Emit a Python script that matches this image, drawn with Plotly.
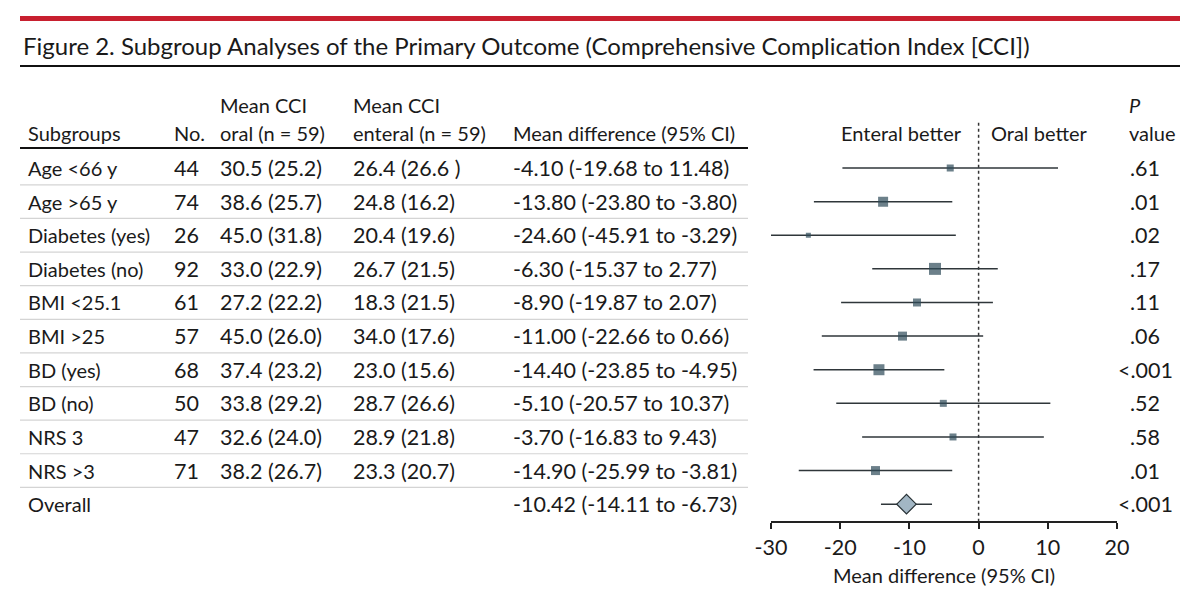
import plotly.graph_objects as go

# -- table / forest data
subgroups = ["Age <66 y", "Age >65 y", "Diabetes (yes)", "Diabetes (no)", "BMI <25.1",
             "BMI >25", "BD (yes)", "BD (no)", "NRS 3", "NRS >3", "Overall"]
counts = ["44", "74", "26", "92", "61", "57", "68", "50", "47", "71", ""]
oral_cci = ["30.5 (25.2)", "38.6 (25.7)", "45.0 (31.8)", "33.0 (22.9)", "27.2 (22.2)",
            "45.0 (26.0)", "37.4 (23.2)", "33.8 (29.2)", "32.6 (24.0)", "38.2 (26.7)", ""]
enteral_cci = ["26.4 (26.6 )", "24.8 (16.2)", "20.4 (19.6)", "26.7 (21.5)", "18.3 (21.5)",
               "34.0 (17.6)", "23.0 (15.6)", "28.7 (26.6)", "28.9 (21.8)", "23.3 (20.7)", ""]
mean_diff = [-4.10, -13.80, -24.60, -6.30, -8.90, -11.00, -14.40, -5.10, -3.70, -14.90, -10.42]
ci_low = [-19.68, -23.80, -45.91, -15.37, -19.87, -22.66, -23.85, -20.57, -16.83, -25.99, -14.11]
ci_high = [11.48, -3.80, -3.29, 2.77, 2.07, 0.66, -4.95, 10.37, 9.43, -3.81, -6.73]
p_values = [".61", ".01", ".02", ".17", ".11", ".06", "<.001", ".52", ".58", ".01", "<.001"]
weights = [7, 10, 5, 12, 8, 9, 11, 7, 7, 9]  # marker size ~ study weight
x_ticks = [-30, -20, -10, 0, 10, 20]

FONT = "Lato, Roboto, sans-serif"
TXT = "#1a1a1a"
MARK = "#2e4a58"
LINE = "#2f363a"

# the page body has an 8px margin; size the figure so it fits the 1200x604 window
OFF = 8
W, H = 1200 - OFF, 604 - OFF


def px(x):
    return (x - OFF) / W


def py(y):
    return 1 - (y - OFF) / H


rows = list(range(len(subgroups)))
fig = go.Figure()

# -------------------------------------------------------------------------
# subgroup estimates (squares) with CI whiskers
n = len(weights)
fig.add_trace(go.Scatter(
    x=mean_diff[:n], y=rows[:n], mode="markers",
    marker=dict(symbol="square", size=weights, color=MARK, line=dict(width=0)),
    error_x=dict(type="data", symmetric=False,
                 array=[h - m for h, m in zip(ci_high[:n], mean_diff[:n])],
                 arrayminus=[m - lo for m, lo in zip(mean_diff[:n], ci_low[:n])],
                 color=LINE, thickness=1.5, width=0),
    showlegend=False, hoverinfo="skip",
))
# -- overall (diamond)
fig.add_trace(go.Scatter(
    x=mean_diff[n:], y=rows[n:], mode="markers",
    marker=dict(symbol="diamond", size=15, color="#a2b6c4", line=dict(width=1.2, color="#263034")),
    error_x=dict(type="data", symmetric=False,
                 array=[ci_high[n] - mean_diff[n]], arrayminus=[mean_diff[n] - ci_low[n]],
                 color=LINE, thickness=1.5, width=0),
    showlegend=False, hoverinfo="skip",
))

# -- null line
fig.add_shape(type="line", xref="x", yref="y", x0=0, x1=0, y0=-1.35, y1=10.5,
              line=dict(color="#333", width=1.5, dash="dot"), layer="below")

# -------------------------------------------------------------------------
# table text
col_x = [27, 173, 219, 352, 512]
annos = []


def txt(x, y, s, size=20, yref="paper", xanchor="left", italic=False):
    annos.append(dict(x=px(x), y=y, xref="paper", yref=yref, text=s, showarrow=False,
                      xanchor=xanchor, yanchor="middle", borderpad=0,
                      font=dict(family=FONT, size=size, color=TXT,
                                style="italic" if italic else "normal")))


NUM = 21.5  # the figures in the source are a touch wider than the letters
for i in rows:
    txt(col_x[0], i, subgroups[i], yref="y")
    for cx, col in zip(col_x[1:4], [counts, oral_cci, enteral_cci]):
        txt(cx, i, col[i], size=NUM, yref="y")
    txt(col_x[4], i, f"{mean_diff[i]:.2f} ({ci_low[i]:.2f} to {ci_high[i]:.2f})", size=NUM, yref="y")
    txt(1145, i, p_values[i], size=NUM, yref="y", xanchor="center")

# header
txt(27, py(133), "Subgroups")
txt(173, py(133), "No.")
txt(219, py(105), "Mean CCI")
txt(219, py(133), "oral (n = 59)")
txt(352, py(105), "Mean CCI")
txt(352, py(133), "enteral (n = 59)")
txt(512, py(133), "Mean difference (95% CI)")
txt(1128, py(105), "P", italic=True)
txt(1128, py(133), "value")
txt(963, py(133), "Enteral better", xanchor="right")
txt(990, py(133), "Oral better")

# title
txt(22, py(45), "Figure 2. Subgroup Analyses of the Primary Outcome (Comprehensive Complication Index [CCI])",
    size=24)

fig.update_layout(annotations=annos)

# -- rules
shapes = [
    dict(type="rect", xref="paper", yref="paper", x0=px(20), x1=px(1180), y0=py(21), y1=py(16),
         fillcolor="#c8202f", line=dict(width=0)),
    dict(type="line", xref="paper", yref="paper", x0=px(20), x1=px(1180), y0=py(66), y1=py(66),
         line=dict(color="#111", width=2)),
    dict(type="line", xref="paper", yref="paper", x0=px(20), x1=px(748), y0=py(148), y1=py(148),
         line=dict(color="#111", width=2)),
]
for i in rows[:-1]:
    shapes.append(dict(type="line", xref="paper", yref="y", x0=px(20), x1=px(748), y0=i + 0.5, y1=i + 0.5,
                       line=dict(color="#d4d4d4", width=1.2)))
for s in shapes:
    fig.add_shape(**s)

# -------------------------------------------------------------------------
fig.update_layout(
    width=W, height=H,
    margin=dict(l=0, r=0, t=0, b=0, autoexpand=False),
    plot_bgcolor="white", paper_bgcolor="white",
    font=dict(family=FONT, size=20, color=TXT),
    xaxis=dict(domain=[px(771), px(1117)], range=[-30, 20], tickvals=x_ticks,
               ticktext=[str(t) for t in x_ticks],
               showgrid=False, zeroline=False, showline=True, linecolor="#222", linewidth=1.5,
               ticks="outside", ticklen=6, tickwidth=1.5, tickcolor="#222",
               tickfont=dict(size=NUM, family=FONT, color=TXT),
               title=dict(text="Mean difference (95% CI)", font=dict(size=20, family=FONT, color=TXT),
                          standoff=10)),
    yaxis=dict(domain=[py(521), py(117.6)], range=[10.5, -1.5], visible=False,
               showgrid=False, zeroline=False),
)

fig.write_html("out.html")
